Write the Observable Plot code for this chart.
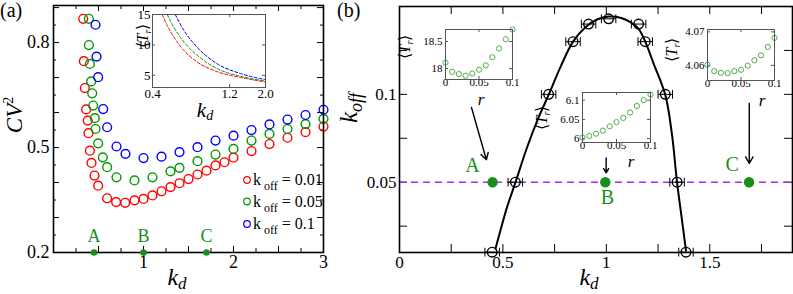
<!DOCTYPE html>
<html><head><meta charset="utf-8">
<script src="https://cdn.jsdelivr.net/npm/d3@7"></script>
<script src="https://cdn.jsdelivr.net/npm/@observablehq/plot@0.6"></script>
<style>
html,body{margin:0;padding:0;background:#fff;}
#root{position:relative;width:793px;height:294px;overflow:hidden;background:#fff;}
</style></head><body><div id="root"></div>
<script>
// ---------- Panel (a): CV^2 vs k_d ----------
const kdRed = [0.33,0.337,0.348,0.363,0.38,0.389,0.404,0.422,0.456,0.496,0.596,0.696,0.796,0.9,1.0,1.1,1.2,1.3,1.4,1.5,1.6,1.7,1.8,1.9,2.0,2.2,2.4,2.6,2.8,3.0];
const cvRed = [0.868,0.747,0.67,0.609,0.577,0.541,0.491,0.456,0.42,0.391,0.355,0.344,0.342,0.349,0.353,0.363,0.375,0.387,0.398,0.41,0.423,0.434,0.449,0.458,0.471,0.49,0.51,0.528,0.544,0.56];
const kdGreen = [0.393,0.393,0.404,0.419,0.43,0.441,0.459,0.467,0.496,0.548,0.596,0.7,0.9,1.1,1.3,1.4,1.6,1.8,2.0,2.2,2.4,2.6,2.8,3.0];
const cvGreen = [0.868,0.793,0.739,0.689,0.655,0.62,0.584,0.553,0.512,0.472,0.444,0.415,0.406,0.415,0.432,0.442,0.461,0.48,0.496,0.52,0.539,0.553,0.567,0.582];
const kdBlue = [0.467,0.478,0.496,0.552,0.596,0.7,0.8,1.0,1.2,1.4,1.6,1.8,2.0,2.2,2.4,2.6,2.8,3.0];
const cvBlue = [0.851,0.76,0.701,0.61,0.558,0.503,0.482,0.47,0.474,0.487,0.501,0.52,0.534,0.55,0.566,0.58,0.593,0.608];
const legendLabels = ["0.01","0.05","0.1"];
const pointNames = ["A","B","C"];
const pointKdA = [0.45,1.0,1.7];
const aXTickLabels = [1,2,3];
const aYTickLabels = [0.2,0.5,0.8];
const aXTicksMajor = [0.5,1,1.5,2,2.5];
const aXTicksMinor = [0.25,0.75,1.25,1.75,2.25,2.75];
const aYTicksMajor = [0.3,0.4,0.5,0.6,0.7,0.8,0.9];
const aYTicksMinor = [0.25,0.35,0.45,0.55,0.65,0.75,0.85];

// inset of panel (a): <T_r> vs k_d (log x)
const kdInRed = [0.459,0.493,0.542,0.625,0.756,1.005,1.4,2.0];
const tInRed = [15,13.2,11.3,9.1,7.2,5.6,4.66,3.9];
const kdInGreen = [0.493,0.542,0.625,0.756,1.005,1.4,2.0];
const tInGreen = [15,12.9,10.5,8.3,6.1,4.84,4.07];
const kdInBlue = [0.553,0.625,0.756,1.005,1.4,2.0];
const tInBlue = [15,12.4,9.6,6.9,5.3,4.3];
const insXTicks = [0.4,1.2,2.0];
const insYTicks = [5,10,15];

// ---------- Panel (b): phase diagram k_off vs k_d ----------
const kdPhase = [0.448,0.56,0.721,0.839,0.914,1.011,1.156,1.188,1.285,1.342,1.385];
const koffPhase = [0.0102,0.05,0.1,0.13,0.14,0.143,0.14,0.13,0.1,0.05,0.0102];
const kdErr = [0.035,0.035,0.035,0.035,0.035,0.035,0.035,0.035,0.035,0.035,0.035];
const kdCurve = [0.464,0.488,0.52,0.56,0.617,0.673,0.721,0.778,0.839,0.899,0.955,1.011,1.068,1.116,1.156,1.188,1.229,1.285,1.317,1.342,1.366,1.385];
const koffCurve = [0.0121,0.0225,0.0358,0.0497,0.0699,0.087,0.0997,0.1155,0.13,0.1382,0.1426,0.1443,0.1436,0.1411,0.1373,0.13,0.1174,0.0997,0.0775,0.0497,0.0282,0.0111];
const koffLine = [0.05];
const pointKdB = [0.45,0.995,1.69];
const pointKoffB = [0.05,0.05,0.05];
const arrowX1 = [0.348,0.999,1.691];
const arrowY1 = [0.0925,0.0638,0.0948];
const arrowX2 = [0.42,0.999,1.691];
const arrowY2 = [0.0628,0.0553,0.0607];
const bXTickLabels = [0,0.5,1,1.5];
const bYTickLabels = [0.05,0.1];
const bXTicks = [0.25,0.5,0.75,1,1.25,1.5,1.75];
const bYTicks = [0.025,0.05,0.075,0.1,0.125];

// insets of panel (b): <T_r> vs r
const rVals = [0,0.01,0.02,0.03,0.04,0.05,0.06,0.07,0.08,0.09,0.1];
const tA = [18.11,17.94,17.90,17.87,17.91,17.98,18.06,18.21,18.37,18.54,18.72];
const tB = [6.003,6.007,6.013,6.021,6.032,6.043,6.054,6.068,6.085,6.1,6.115];
const tC = [4.0602,4.0583,4.0578,4.0577,4.0583,4.0587,4.0599,4.0615,4.063,4.0655,4.0682];
const rTicks = [0,0.05,0.1];
const tATicks = [18,18.5];
const tBTicks = [6,6.05,6.1];
const tCTicks = [4.06,4.07];

// ---------- helpers ----------
const SERIF = "Liberation Serif, Times New Roman, serif";
const RED = "#ff0000", GREEN = "#009a00", BLUE = "#0000ff";
const DGREEN = "#17901a", LGREEN = "#4cae4c", PURPLE = "#a030e8";
const root = document.getElementById("root");
const plain = d => String(d);

function place(box, pad, opts) {
  const w = box.r - box.l + pad.l + pad.r, h = box.b - box.t + pad.t + pad.b;
  const svg = Plot.plot({
    width: w, height: h,
    marginLeft: pad.l, marginRight: pad.r, marginTop: pad.t, marginBottom: pad.b,
    style: {background: "transparent", overflow: "visible",
            position: "absolute", left: (box.l - pad.l) + "px", top: (box.t - pad.t) + "px", maxWidth: "none", color: "black"},
    ...opts
  });
  root.appendChild(svg);
  return svg;
}
function frameTicks(box, groups, stroke = "black", sw = 1) {
  const fw = box.r - box.l, fh = box.b - box.t, m = [];
  for (const g of groups) {
    if (g.x) {
      m.push(Plot.tickX(g.x, {x: d => d, insetTop: fh - g.len, stroke, strokeWidth: sw}));
      m.push(Plot.tickX(g.x, {x: d => d, insetBottom: fh - g.len, stroke, strokeWidth: sw}));
    }
    if (g.y) {
      m.push(Plot.tickY(g.y, {y: d => d, insetRight: fw - g.len, stroke, strokeWidth: sw}));
      m.push(Plot.tickY(g.y, {y: d => d, insetLeft: fw - g.len, stroke, strokeWidth: sw}));
    }
  }
  return m;
}
// tick labels drawn as text marks positioned by the plot's scales
function tickLabels(xVals, yVals, {xmin, ymin, fs, fmtX = plain, fmtY = plain, padX = 3, padY = 3}) {
  return [
    Plot.text(xVals, {x: d => d, y: () => ymin, text: d => fmtX(d), lineAnchor: "top", dy: padX,
      fontSize: fs, fontFamily: SERIF, fill: "black"}),
    Plot.text(yVals, {x: () => xmin, y: d => d, text: d => fmtY(d), textAnchor: "end", dx: -padY,
      fontSize: fs, fontFamily: SERIF, fill: "black"})
  ];
}
const rows = (xs, ys) => xs.map((x, i) => ({x, y: ys[i]}));

// ---------- Panel (a) main ----------
const boxA = {l: 53, t: 5, r: 323, b: 252};
place(boxA, {l: 53, r: 6, t: 5, b: 42}, {
  x: {domain: [0, 3], axis: null},
  y: {domain: [0.2, 0.906], axis: null},
  marks: [
    ...frameTicks(boxA, [{x: aXTicksMajor, len: 6}, {x: aXTicksMinor, len: 4}, {y: aYTicksMajor, len: 6}, {y: aYTicksMinor, len: 3}]),
    ...tickLabels(aXTickLabels, aYTickLabels, {xmin: 0, ymin: 0.2, fs: 18, fmtY: d3.format(".1f"), padX: 3, padY: 4}),
    Plot.dot(rows(kdRed, cvRed), {x: "x", y: "y", r: 4.4, stroke: RED, strokeWidth: 1.4}),
    Plot.dot(rows(kdGreen, cvGreen), {x: "x", y: "y", r: 4.4, stroke: GREEN, strokeWidth: 1.4}),
    Plot.dot(rows(kdBlue, cvBlue), {x: "x", y: "y", r: 4.4, stroke: BLUE, strokeWidth: 1.4}),
    Plot.frame({stroke: "black", strokeWidth: 1.6}),
    Plot.dot(pointKdA, {x: d => d, y: () => 0.2, r: 3.3, fill: DGREEN}),
    Plot.text(pointKdA, {x: d => d, y: () => 0.2, text: (d, i) => pointNames[i], dy: -16, fill: DGREEN, fontSize: 18, fontFamily: SERIF})
  ]
});

// ---------- Panel (a) inset ----------
const boxAi = {l: 152, t: 14, r: 265, b: 87};
place(boxAi, {l: 30, r: 12, t: 8, b: 16}, {
  x: {type: "log", domain: [0.4, 2.0], axis: null},
  y: {domain: [3, 15], axis: null},
  marks: [
    Plot.rect([0], {x1: () => 0.4, x2: () => 2.0, y1: () => 3, y2: () => 15, fill: "white"}),
    ...frameTicks(boxAi, [{x: insXTicks, len: 3}, {y: insYTicks, len: 3}], "#555"),
    ...tickLabels(insXTicks, insYTicks, {xmin: 0.4, ymin: 3, fs: 13, fmtX: d3.format(".1f"), padX: 1, padY: 2}),
    Plot.line(rows(kdInRed, tInRed), {x: "x", y: "y", stroke: RED, strokeDasharray: "3,2", strokeWidth: 1, curve: "monotone-x"}),
    Plot.line(rows(kdInGreen, tInGreen), {x: "x", y: "y", stroke: GREEN, strokeDasharray: "3,2", strokeWidth: 1, curve: "monotone-x"}),
    Plot.line(rows(kdInBlue, tInBlue), {x: "x", y: "y", stroke: BLUE, strokeDasharray: "3,2", strokeWidth: 1, curve: "monotone-x"}),
    Plot.frame({stroke: "#555", strokeWidth: 1})
  ]
});

// ---------- Panel (b) main ----------
const boxB = {l: 399, t: 6, r: 792, b: 252};
const phase = kdPhase.map((x, i) => ({x, y: koffPhase[i], e: kdErr[i]}));
const ptsB = rows(pointKdB, pointKoffB);
place(boxB, {l: 45, r: 1, t: 6, b: 42}, {
  x: {domain: [0, 1.9], axis: null},
  y: {domain: [0.01, 0.15], axis: null},
  marks: [
    ...frameTicks(boxB, [{x: bXTicks, len: 8}, {y: bYTicks, len: 8}]),
    ...tickLabels(bXTickLabels, bYTickLabels, {xmin: 0, ymin: 0.01, fs: 17, padX: 3, padY: 3}),
    Plot.ruleY(koffLine, {y: d => d, stroke: PURPLE, strokeWidth: 1.4, strokeDasharray: "7,5"}),
    Plot.line(rows(kdCurve, koffCurve), {x: "x", y: "y", stroke: "black", strokeWidth: 2, curve: "catmull-rom"}),
    Plot.link(phase, {x1: d => d.x - d.e, x2: d => d.x + d.e, y1: "y", y2: "y", stroke: "black", strokeWidth: 1}),
    Plot.link(phase, {x1: d => d.x - d.e, x2: d => d.x - d.e, y1: d => d.y - 0.0025, y2: d => d.y + 0.0025, stroke: "black", strokeWidth: 1}),
    Plot.link(phase, {x1: d => d.x + d.e, x2: d => d.x + d.e, y1: d => d.y - 0.0025, y2: d => d.y + 0.0025, stroke: "black", strokeWidth: 1}),
    Plot.dot(phase, {x: "x", y: "y", r: 4.8, stroke: "black", strokeWidth: 1.4}),
    Plot.dot(ptsB, {x: "x", y: "y", r: 5.2, fill: DGREEN}),
    Plot.text(ptsB.slice(0, 1), {x: "x", y: "y", text: () => pointNames[0], dx: -20, dy: -17, fill: DGREEN, fontSize: 20, fontFamily: SERIF}),
    Plot.text(ptsB.slice(1, 2), {x: "x", y: "y", text: () => pointNames[1], dx: 2, dy: 15, fill: DGREEN, fontSize: 20, fontFamily: SERIF}),
    Plot.text(ptsB.slice(2, 3), {x: "x", y: "y", text: () => pointNames[2], dx: -17, dy: -18, fill: DGREEN, fontSize: 20, fontFamily: SERIF}),
    Plot.arrow(arrowX1.map((x, i) => ({x1: x, y1: arrowY1[i], x2: arrowX2[i], y2: arrowY2[i]})),
      {x1: "x1", y1: "y1", x2: "x2", y2: "y2", stroke: "black", strokeWidth: 1.4, headLength: 8, bend: 0}),
    Plot.frame({stroke: "black", strokeWidth: 1.6})
  ]
});

// ---------- Panel (b) insets ----------
function rInset(box, ys, dom, yt) {
  place(box, {l: 26, r: 8, t: 6, b: 14}, {
    x: {domain: [0, 0.1], axis: null},
    y: {domain: dom, axis: null},
    marks: [
      ...frameTicks(box, [{x: rTicks, len: 3}, {y: yt, len: 3}], "#555"),
      ...tickLabels(rTicks, yt, {xmin: 0, ymin: dom[0], fs: 11, padX: -1, padY: 3}),
      Plot.dot(rows(rVals, ys), {x: "x", y: "y", r: 2.6, stroke: LGREEN, strokeWidth: 1}),
      Plot.frame({stroke: "#555", strokeWidth: 1})
    ]
  });
}
rInset({l: 445, t: 29, r: 512, b: 79}, tA, [17.8, 18.72], tATicks);
rInset({l: 582, t: 92, r: 650, b: 142}, tB, [5.99, 6.12], tBTicks);
rInset({l: 707, t: 29, r: 774, b: 80}, tC, [4.0555, 4.0707], tCTicks);

// ---------- overlay: panel letters, axis titles, legend ----------
const ov = d3.select(root).append("svg").attr("width", 793).attr("height", 294)
  .style("position", "absolute").style("left", "0px").style("top", "0px").style("overflow", "visible");
function rich(x, y, parts, {size = 20, rotate = 0, anchor = "start", fill = "black"} = {}) {
  const t = ov.append("text").attr("transform", `translate(${x},${y}) rotate(${rotate})`)
    .attr("font-family", SERIF).attr("font-size", size).attr("text-anchor", anchor).attr("fill", fill);
  for (const p of parts) {
    const s = t.append("tspan").text(p.t);
    if (p.dy) s.attr("dy", p.dy);
    if (p.size) s.attr("font-size", p.size);
    if (p.italic) s.attr("font-style", "italic");
  }
}
rich(0, 17, [{t: "(a)"}], {size: 20});
rich(337, 17, [{t: "(b)"}], {size: 20});
rich(22, 115, [{t: "CV", italic: true}, {t: "2", dy: -9, size: 14}], {size: 23, rotate: -90, anchor: "middle"});
rich(177, 285, [{t: "k", italic: true}, {t: "d", italic: true, dy: 4, size: 17}], {size: 24, anchor: "middle"});
rich(589, 285, [{t: "k", italic: true}, {t: "d", italic: true, dy: 4, size: 17}], {size: 24, anchor: "middle"});
rich(357, 108, [{t: "k", italic: true}, {t: "off", italic: true, dy: 5, size: 18}], {size: 25, rotate: -90, anchor: "middle"});
rich(205, 117, [{t: "k", italic: true}, {t: "d", italic: true, dy: 3, size: 14}], {size: 21, anchor: "middle"});
function trLabel(x, y) {
  rich(x, y, [{t: "⟨"}, {t: "T", italic: true}, {t: "r", italic: true, dy: 3, size: 10}, {t: "⟩", dy: -3}], {size: 16, rotate: -90, anchor: "middle"});
}
trLabel(148, 36);
trLabel(410, 47);
trLabel(547, 118);
trLabel(677, 50);
rich(481, 105, [{t: "r", italic: true}], {size: 17, anchor: "middle"});
rich(631, 167, [{t: "r", italic: true}], {size: 17, anchor: "middle"});
rich(762, 106, [{t: "r", italic: true}], {size: 17, anchor: "middle"});
// legend
const legColors = [RED, GREEN, BLUE];
const legY = [180, 201.5, 224];
legendLabels.forEach((lab, i) => {
  ov.append("circle").attr("cx", 247).attr("cy", legY[i]).attr("r", 3.3).attr("fill", "none").attr("stroke", legColors[i]).attr("stroke-width", 1.2);
  rich(253, legY[i] + 5, [{t: "k"}, {t: " off", dy: 5, size: 12}, {t: " = " + lab, dy: -5}], {size: 16});
});
</script></body></html>
